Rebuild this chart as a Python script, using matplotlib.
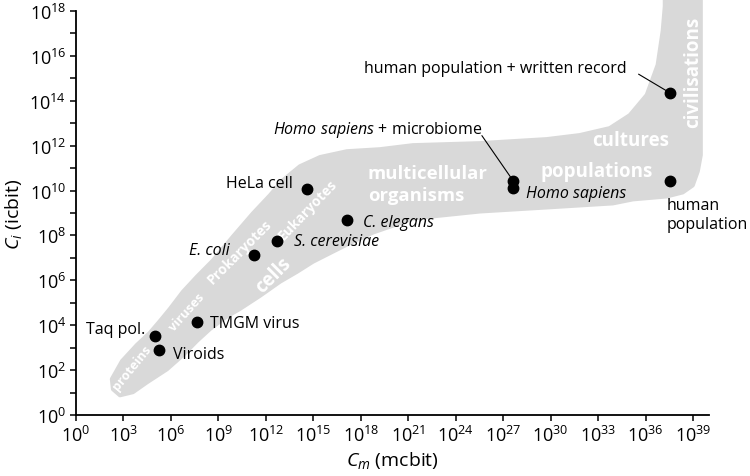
import numpy as np
import matplotlib
matplotlib.use("Agg")
import matplotlib.pyplot as plt
from matplotlib.patches import Polygon
from matplotlib.ticker import FixedLocator, NullFormatter, LogFormatterSciNotation

plt.rcParams['font.family'] = ['Open Sans', 'DejaVu Sans']
plt.rcParams['mathtext.fontset'] = 'custom'
plt.rcParams['mathtext.rm'] = 'Open Sans'
plt.rcParams['mathtext.it'] = 'Open Sans:italic'
plt.rcParams['mathtext.bf'] = 'Open Sans:bold'

# ---- data (log10 values) ----
names = ["Taq pol.", "Viroids", "TMGM virus", "E. coli", "S. cerevisiae",
         "HeLa cell", "C. elegans", "Homo sapiens + microbiome", "Homo sapiens",
         "human population + written record", "human population"]
log_cm = [4.99, 5.24, 7.62, 11.22, 12.68, 14.61, 17.14, 27.63, 27.63, 37.52, 37.52]
log_ci = [3.51, 2.91, 4.13, 7.15, 7.77, 10.08, 8.67, 10.43, 10.10, 14.36, 10.43]

# band outline (log10 Cm, log10 Ci)
band_log_cm = [2.27, 2.91, 3.85, 4.67, 5.31, 5.94, 6.76, 7.64, 8.65, 9.92, 11.18, 12.26,
               13.08, 14.15, 15.42, 17.12, 19.20, 21.29, 25.52, 29.75, 31.84, 33.73,
               35.0, 36.07, 36.76, 37.08, 37.21, 37.21,
               39.48, 39.48, 39.29, 38.97, 38.34, 37.33, 35.19, 33.92, 29.75, 25.52,
               21.29, 20.03, 18.76, 17.50, 16.23, 14.97, 13.96, 12.89, 11.62, 10.36,
               9.48, 8.46, 7.64, 6.76, 5.75, 4.49, 3.60, 2.78, 2.34]
band_log_ci = [1.60, 2.40, 3.12, 3.66, 4.19, 4.73, 5.49, 6.16, 6.88, 7.95, 8.98, 9.79,
               10.46, 11.08, 11.49, 11.75, 11.84, 12.02, 12.11, 12.29, 12.47, 12.78,
               13.36, 14.26, 15.60, 17.12, 18.20, 18.52,
               18.52, 11.58, 10.86, 10.23, 9.92, 9.74, 9.61, 9.43, 9.25, 9.07,
               8.76, 8.44, 8.13, 7.73, 7.28, 6.83, 6.38, 5.94, 5.31, 4.73,
               4.37, 3.83, 3.30, 2.67, 2.04, 1.46, 1.02, 0.88, 1.15]

x_ticks_exp = list(range(0, 40, 3))
y_ticks_exp = list(range(0, 19, 2))

cm = 10.0 ** np.array(log_cm)
ci = 10.0 ** np.array(log_ci)

fig = plt.figure(figsize=(7.5, 4.77), dpi=100)
ax = fig.add_axes([0.1013, 0.1279, 0.844, 0.8469])
ax.set_xscale('log')
ax.set_yscale('log')
ax.set_xlim(1, 1e40)
ax.set_ylim(1, 1e18)

band_xy = np.column_stack([10.0 ** np.array(band_log_cm), 10.0 ** np.array(band_log_ci)])
band = Polygon(band_xy, closed=True, facecolor='#d9d9d9', edgecolor='#d9d9d9',
               linewidth=3, joinstyle='round', clip_on=False, zorder=1)
ax.add_patch(band)

# band labels
wkw = dict(color='white', fontweight='bold', ha='center', va='center', zorder=2)
def L(lx, ly):
    return 10.0 ** lx, 10.0 ** ly
ax.text(*L(3.55, 2.12), "proteins", rotation=51, fontsize=9.3, **wkw)
ax.text(*L(7.0, 4.6), "viruses", rotation=48, fontsize=9.3, **wkw)
ax.text(*L(10.36, 7.28), "Prokaryotes", rotation=45, fontsize=10, **wkw)
ax.text(*L(14.65, 9.17), "Eukaryotes", rotation=46, fontsize=10, **wkw)
ax.text(*L(12.5, 6.25), "cells", rotation=45, fontsize=13.5, **wkw)
ax.text(10.0 ** 18.45, 10.0 ** 10.3, "multicellular\norganisms", color='white',
        fontweight='bold', fontsize=13.3, ha='left', va='center', linespacing=1.3, zorder=2)
ax.text(*L(32.9, 10.85), "populations", fontsize=13.5, **wkw)
ax.text(*L(35.05, 12.25), "cultures", fontsize=13.5, **wkw)
ax.text(*L(38.98, 15.33), "civilisations", rotation=90, fontsize=13.5, **wkw)

# points
ax.plot(cm, ci, 'o', color='black', markersize=7.5, zorder=4, clip_on=False)

fs = 11.5
def T(lx, ly, s, ha='left', **kw):
    ax.text(10.0 ** lx, 10.0 ** ly, s, ha=ha, va='center', fontsize=fs, zorder=5, **kw)

T(4.40, 3.83, "Taq pol.", ha='right')
T(6.11, 2.70, "Viroids")
T(8.46, 4.10, "TMGM virus")
T(9.73, 7.34, "E. coli", ha='right', style='italic')
T(13.77, 7.74, "S. cerevisiae", style='italic')
T(13.73, 10.35, "HeLa cell", ha='right')
T(18.11, 8.61, "C. elegans", style='italic')
T(28.43, 9.87, "Homo sapiens", style='italic')
T(25.65, 12.74, r"$\mathit{Homo\ sapiens}$ + microbiome", ha='right')
T(34.8, 15.47, "human population + written record", ha='right')
ax.text(10.0 ** 37.3, 10.0 ** 8.93, "human\npopulation", ha='left', va='center',
        fontsize=fs, linespacing=1.2, zorder=5)

# leader lines
ax.annotate("", xy=(cm[7], ci[7]), xytext=(10.0 ** 25.55, 10.0 ** 12.55),
            arrowprops=dict(arrowstyle='-', color='black', lw=0.8), zorder=3)
ax.annotate("", xy=(cm[9], ci[9]), xytext=(10.0 ** 35.4, 10.0 ** 15.25),
            arrowprops=dict(arrowstyle='-', color='black', lw=0.8), zorder=3)

# axes styling
for s in ['top', 'right']:
    ax.spines[s].set_visible(False)
for s in ['left', 'bottom']:
    ax.spines[s].set_linewidth(1.3)
ax.xaxis.set_major_locator(FixedLocator([10.0 ** e for e in x_ticks_exp]))
ax.xaxis.set_minor_locator(FixedLocator([]))
ax.yaxis.set_major_locator(FixedLocator([10.0 ** e for e in y_ticks_exp]))
ax.yaxis.set_minor_locator(FixedLocator([10.0 ** e for e in range(1, 18, 2)]))
ax.yaxis.set_minor_formatter(NullFormatter())
ax.xaxis.set_major_formatter(LogFormatterSciNotation())
ax.yaxis.set_major_formatter(LogFormatterSciNotation())
ax.tick_params(which='both', direction='out', length=4, width=1.1, labelsize=13, pad=3)
ax.set_xlabel(r"$C_m$ (mcbit)", fontsize=14, labelpad=3)
ax.set_ylabel(r"$C_i$ (icbit)", fontsize=14, labelpad=4)

fig.savefig("out.png", dpi=100)
